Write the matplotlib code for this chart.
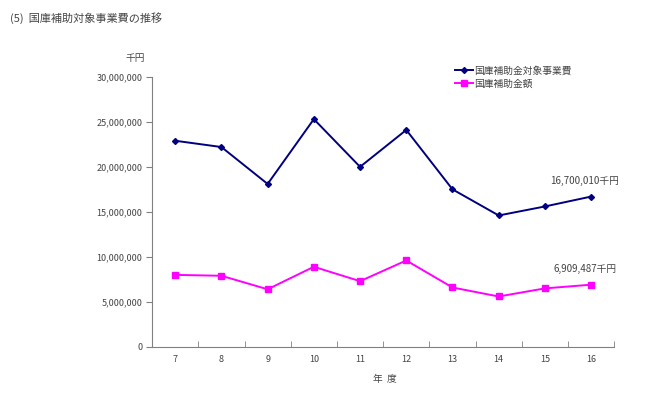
import matplotlib
matplotlib.use('Agg')
import matplotlib.pyplot as plt
from matplotlib.ticker import FuncFormatter

plt.rcParams['font.family'] = ['Noto Sans CJK JP', 'DejaVu Sans']

years = ['7', '8', '9', '10', '11', '12', '13', '14', '15', '16']
project_cost = [22900000, 22200000, 18100000, 25300000, 20000000,
                24100000, 17500000, 14600000, 15600000, 16700010]
subsidy = [8000000, 7900000, 6400000, 8900000, 7300000,
           9600000, 6600000, 5600000, 6500000, 6909487]

text_col = '#444444'

fig = plt.figure(figsize=(6.5, 3.96), dpi=100)
ax = fig.add_axes([0.234, 0.124, 0.711, 0.682])

x = range(len(years))
ax.plot(x, project_cost, color='#000080', marker='D', markersize=3, lw=1.4,
        label='国庫補助金対象事業費')
ax.plot(x, subsidy, color='#FF00FF', marker='s', markersize=4, lw=1.4,
        label='国庫補助金額')

ax.set_xlim(-0.5, len(years) - 0.5)
ax.set_ylim(0, 30000000)
ax.set_yticks(range(0, 30000001, 5000000))
ax.yaxis.set_major_formatter(FuncFormatter(lambda v, p: f'{int(v):,}'))
ax.set_xticks(list(x))
ax.set_xticklabels(years)
ax.set_xticks([i - 0.5 for i in range(len(years) + 1)], minor=True)
ax.tick_params(axis='x', which='major', length=0, pad=6)
ax.tick_params(axis='x', which='minor', length=4, direction='in', color='#808080')
ax.tick_params(axis='y', length=4, direction='out', color='#808080', pad=3)
ax.tick_params(labelsize=6.5, labelcolor=text_col)

for s in ['top', 'right']:
    ax.spines[s].set_visible(False)
for s in ['left', 'bottom']:
    ax.spines[s].set_color('#808080')

ax.text(len(years) - 1.14, project_cost[-1] + 1200000, f'{project_cost[-1]:,}千円',
        ha='center', va='bottom', fontsize=7, color=text_col)
ax.text(len(years) - 1.14, subsidy[-1] + 1200000, f'{subsidy[-1]:,}千円',
        ha='center', va='bottom', fontsize=7, color=text_col)

fig.text(10 / 650, 1 - 18 / 396, '(5)  国庫補助対象事業費の推移', fontsize=8,
         color=text_col, va='center')
fig.text(125 / 650, 1 - 58 / 396, '千円', fontsize=7, color=text_col, va='center')
fig.text(385 / 650, 1 - 379 / 396, '年  度', fontsize=7, color=text_col,
         va='center', ha='center')

leg = ax.legend(loc='upper left', bbox_to_anchor=(0.645, 1.06), frameon=False,
                fontsize=7, handlelength=1.8, handletextpad=0.2, labelspacing=0.3,
                borderpad=0)
for t in leg.get_texts():
    t.set_color(text_col)

fig.savefig('out.png', dpi=100)
